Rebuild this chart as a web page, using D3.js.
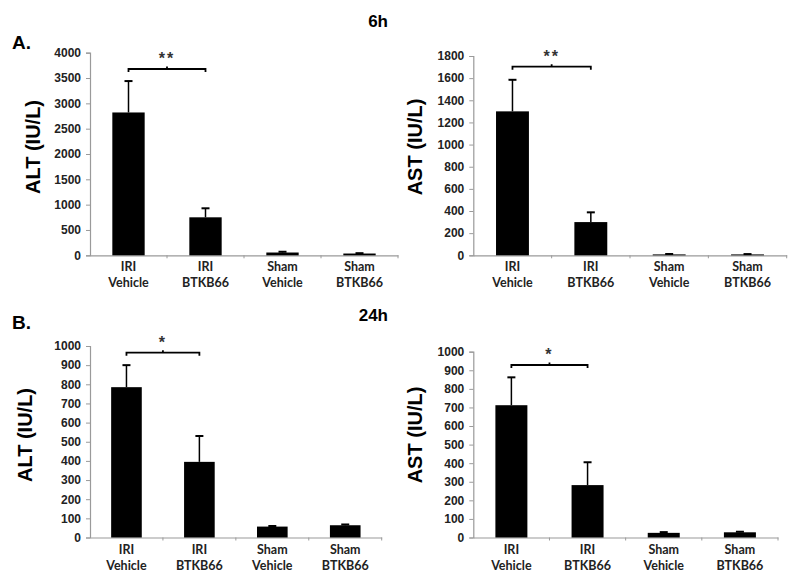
<!DOCTYPE html>
<html><head><meta charset="utf-8">
<script src="https://cdn.jsdelivr.net/npm/d3@7"></script>
<style>body{margin:0;background:#fff}svg{display:block}</style>
</head><body>
<svg id="c" width="800" height="579"></svg>
<script>
const categories = [["IRI","Vehicle"],["IRI","BTKB66"],["Sham","Vehicle"],["Sham","BTKB66"]];
const alt6hMean = [2820, 750, 55, 35];
const alt6hErr  = [3440, 928, 70, 42];
const ast6hMean = [1300, 300, 8, 8];
const ast6hErr  = [1585, 388, 12, 11];
const alt24hMean = [785, 395, 57, 64];
const alt24hErr  = [900, 530, 60, 68];
const ast24hMean = [712, 282, 25, 28];
const ast24hErr  = [862, 405, 29, 31];
const alt6hTicks = [0,500,1000,1500,2000,2500,3000,3500,4000];
const ast6hTicks = [0,200,400,600,800,1000,1200,1400,1600,1800];
const ticks1000 = [0,100,200,300,400,500,600,700,800,900,1000];

const panels = [
  {mean:alt6hMean, err:alt6hErr, ticks:alt6hTicks, max:4000, label:"ALT (IU/L)", x0:90, x1:398, y0:255.3, y1:52.7, labX:33, labY:147, sig:"**", brY:69},
  {mean:ast6hMean, err:ast6hErr, ticks:ast6hTicks, max:1800, label:"AST (IU/L)", x0:473.3, x1:786.7, y0:255.3, y1:56, labX:415, labY:147, sig:"**", brY:66.7},
  {mean:alt24hMean, err:alt24hErr, ticks:ticks1000, max:1000, label:"ALT (IU/L)", x0:90, x1:381.7, y0:537.5, y1:346, labX:25, labY:435, sig:"*", brY:352.7},
  {mean:ast24hMean, err:ast24hErr, ticks:ticks1000, max:1000, label:"AST (IU/L)", x0:473.3, x1:778, y0:537.5, y1:351.7, labX:415, labY:435, sig:"*", brY:365}
];

const svg = d3.select("#c");
const axisColor = "#9a9a9a";

panels.forEach(p => {
  const g = svg.append("g");
  const x = d3.scaleBand().domain(d3.range(categories.length)).range([p.x0, p.x1]).padding(0);
  const y = d3.scaleLinear().domain([0, p.max]).range([p.y0, p.y1]);
  const bw = x.bandwidth() * 0.42;
  const cx = i => x(i) + x.bandwidth() / 2;

  // y axis
  const ya = d3.axisLeft(y).tickValues(p.ticks).tickSize(4).tickPadding(5).tickFormat(d3.format("d"));
  const yg = g.append("g").attr("transform", `translate(${p.x0},0)`).call(ya);
  yg.select(".domain").attr("stroke", axisColor).attr("stroke-width", 1.2);
  yg.selectAll(".tick line").attr("stroke", axisColor);
  yg.selectAll(".tick text").attr("fill", "#222").style("font-family", "'Liberation Sans', Arial, sans-serif").style("font-weight", "bold").style("font-size", "12px");

  // x axis baseline
  const xa = d3.axisBottom(x).tickValues([]).tickSize(0).tickSizeOuter(0);
  const xg = g.append("g").attr("transform", `translate(0,${p.y0})`).call(xa);
  xg.select(".domain").attr("stroke", axisColor).attr("stroke-width", 1.2);
  // x tick marks at band boundaries
  g.selectAll(".xt").data(d3.range(1, categories.length + 1)).enter().append("line")
    .attr("x1", i => i < categories.length ? x(i) : p.x1).attr("x2", i => i < categories.length ? x(i) : p.x1)
    .attr("y1", p.y0).attr("y2", p.y0 + 3).attr("stroke", axisColor);

  // category labels
  categories.forEach((c, i) => {
    const t = g.append("text").attr("text-anchor", "middle").attr("fill", "#222")
      .style("font-family", "Lato, 'Open Sans', sans-serif").style("font-weight", "bold").style("font-size", "12.5px");
    t.append("tspan").attr("x", cx(i)).attr("y", p.y0 + 16).text(c[0]);
    t.append("tspan").attr("x", cx(i)).attr("y", p.y0 + 32).text(c[1]);
  });

  // error bars
  g.selectAll(".eb").data(p.mean).enter().append("line")
    .attr("x1", (d, i) => cx(i)).attr("x2", (d, i) => cx(i))
    .attr("y1", d => y(d)).attr("y2", (d, i) => y(p.err[i]))
    .attr("stroke", "#000").attr("stroke-width", 1.5);
  g.selectAll(".ec").data(p.err).enter().append("line")
    .attr("x1", (d, i) => cx(i) - 4).attr("x2", (d, i) => cx(i) + 4)
    .attr("y1", d => y(d)).attr("y2", d => y(d))
    .attr("stroke", "#000").attr("stroke-width", 2);

  // bars
  g.selectAll(".bar").data(p.mean).enter().append("rect")
    .attr("x", (d, i) => cx(i) - bw / 2).attr("width", bw)
    .attr("y", d => y(d)).attr("height", d => Math.max(0, p.y0 - y(d)))
    .attr("fill", "#000");

  // significance bracket
  const bx0 = cx(0), bx1 = cx(1), bm = (bx0 + bx1) / 2;
  g.append("path")
    .attr("d", `M${bx0},${p.brY + 3}V${p.brY}H${bx1}V${p.brY + 3}M${bm},${p.brY}V${p.brY - 2.5}`)
    .attr("fill", "none").attr("stroke", "#000").attr("stroke-width", 1.8);
  g.append("text").attr("x", bm).attr("y", p.brY - 5).attr("text-anchor", "middle")
    .attr("fill", "#333").style("font-family", "'Liberation Sans', Arial, sans-serif")
    .style("font-size", "16px").style("font-weight", "bold").attr("letter-spacing", "2px").text(p.sig);

  // y label
  g.append("text").attr("transform", `translate(${p.labX},${p.labY}) rotate(-90)`)
    .attr("text-anchor", "middle").attr("dominant-baseline", "central")
    .attr("fill", "#000").style("font-family", "'Liberation Sans', Arial, sans-serif")
    .style("font-weight", "bold").style("font-size", "20px").text(p.label);
});

const hdr = (txt, xx, yy, size, anchor) => svg.append("text").attr("x", xx).attr("y", yy)
  .attr("text-anchor", anchor).attr("fill", "#000")
  .style("font-family", "'Liberation Sans', Arial, sans-serif").style("font-weight", "bold")
  .style("font-size", size + "px").text(txt);
hdr("A.", 12, 49, 19, "start");
hdr("6h", 388, 27, 17, "end");
hdr("B.", 12, 329, 19, "start");
hdr("24h", 388, 321, 17, "end");
</script>
</body></html>
